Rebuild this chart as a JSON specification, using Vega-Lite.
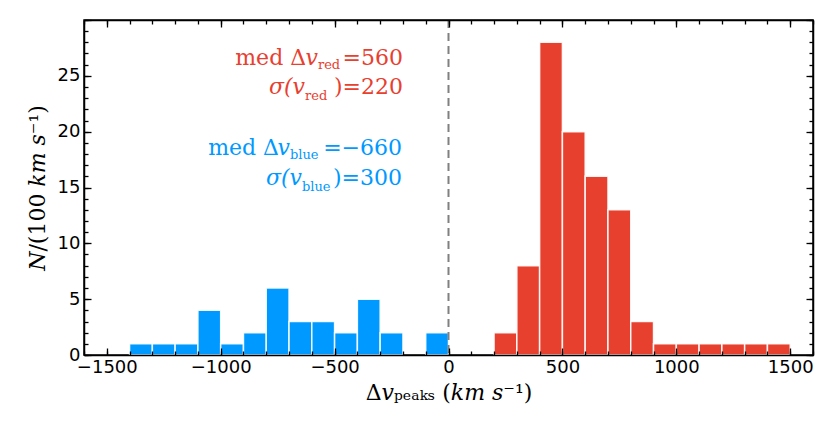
{
  "$schema": "https://vega.github.io/schema/vega-lite/v6.json",
  "width": 729,
  "height": 335,
  "autosize": {"type": "none"},
  "padding": {"left": 84, "top": 20, "right": 17, "bottom": 70},
  "background": "white",
  "config": {
    "view": {"stroke": "black", "strokeWidth": 1.5},
    "axis": {"grid": false, "domain": false, "labelFont": "DejaVu Sans", "labelFontSize": 18, "labelColor": "black", "tickColor": "black", "tickWidth": 1.3}
  },
  "datasets": {
    "bars": [
      {"g": "blue", "start": -1400, "end": -1300, "count": 1},
      {"g": "blue", "start": -1300, "end": -1200, "count": 1},
      {"g": "blue", "start": -1200, "end": -1100, "count": 1},
      {"g": "blue", "start": -1100, "end": -1000, "count": 4},
      {"g": "blue", "start": -1000, "end": -900, "count": 1},
      {"g": "blue", "start": -900, "end": -800, "count": 2},
      {"g": "blue", "start": -800, "end": -700, "count": 6},
      {"g": "blue", "start": -700, "end": -600, "count": 3},
      {"g": "blue", "start": -600, "end": -500, "count": 3},
      {"g": "blue", "start": -500, "end": -400, "count": 2},
      {"g": "blue", "start": -400, "end": -300, "count": 5},
      {"g": "blue", "start": -300, "end": -200, "count": 2},
      {"g": "blue", "start": -100, "end": 0, "count": 2},
      {"g": "red", "start": 200, "end": 300, "count": 2},
      {"g": "red", "start": 300, "end": 400, "count": 8},
      {"g": "red", "start": 400, "end": 500, "count": 28},
      {"g": "red", "start": 500, "end": 600, "count": 20},
      {"g": "red", "start": 600, "end": 700, "count": 16},
      {"g": "red", "start": 700, "end": 800, "count": 13},
      {"g": "red", "start": 800, "end": 900, "count": 3},
      {"g": "red", "start": 900, "end": 1000, "count": 1},
      {"g": "red", "start": 1000, "end": 1100, "count": 1},
      {"g": "red", "start": 1100, "end": 1200, "count": 1},
      {"g": "red", "start": 1200, "end": 1300, "count": 1},
      {"g": "red", "start": 1300, "end": 1400, "count": 1},
      {"g": "red", "start": 1400, "end": 1500, "count": 1}
    ],
    "mainR": [
      {"l": "med Δ", "x": -625, "y": 25.97, "g": "red"},
      {"l": "=560", "x": -200, "y": 25.97, "g": "red"},
      {"l": ")=220", "x": -200, "y": 23.37, "g": "red"},
      {"l": "med Δ", "x": -744, "y": 17.91, "g": "blue"},
      {"l": "=−660", "x": -204, "y": 17.91, "g": "blue"},
      {"l": ")=300", "x": -204, "y": 15.22, "g": "blue"}
    ],
    "italR": [
      {"l": "v", "x": -573, "y": 25.97, "g": "red"},
      {"l": "σ(v", "x": -630, "y": 23.37, "g": "red"},
      {"l": "v", "x": -696, "y": 17.91, "g": "blue"},
      {"l": "σ(v", "x": -643, "y": 15.22, "g": "blue"}
    ],
    "subL": [
      {"l": "red", "x": -573, "y": 25.61, "g": "red"},
      {"l": "red", "x": -630, "y": 22.84, "g": "red"},
      {"l": "blue", "x": -696, "y": 17.55, "g": "blue"},
      {"l": "blue", "x": -643, "y": 14.69, "g": "blue"}
    ],
    "zero": [{"x0": 0}]
  },
  "layer": [
    {
      "data": {"name": "bars"},
      "mark": {"type": "bar", "stroke": "white", "strokeWidth": 1.5, "strokeOpacity": 0.9},
      "encoding": {
        "x": {"field": "start", "type": "quantitative", "scale": {"domain": [-1600, 1600], "nice": false, "zero": false},
          "axis": {"orient": "bottom", "values": [-1500, -1000, -500, 0, 500, 1000, 1500], "format": "d", "ticks": false, "labelPadding": 3,
            "title": "Δ𝑣ₚₑₐₖₛ (𝑘𝑚 𝑠⁻¹)", "titleFont": "DejaVu Serif", "titleFontSize": 22, "titleFontWeight": "normal", "titleColor": "black", "titlePadding": 6}},
        "x2": {"field": "end"},
        "y": {"field": "count", "type": "quantitative", "scale": {"domain": [0, 30], "nice": false, "zero": false},
          "axis": {"orient": "left", "values": [0, 5, 10, 15, 20, 25], "ticks": false, "labelPadding": 4,
            "title": "𝑁/(100 𝑘𝑚 𝑠⁻¹)", "titleFont": "DejaVu Serif", "titleFontSize": 22, "titleFontWeight": "normal", "titleColor": "black", "titlePadding": 8}},
        "y2": {"datum": 0},
        "color": {"field": "g", "type": "nominal", "scale": {"domain": ["red", "blue"], "range": ["#e8402f", "#0099ff"]}, "legend": null}
      }
    },
    {
      "data": {"name": "zero"},
      "mark": {"type": "rule", "color": "#808080", "strokeWidth": 2, "strokeDash": [8, 5]},
      "encoding": {
        "x": {"field": "x0", "type": "quantitative", "scale": {"domain": [-1600, 1600], "nice": false, "zero": false}, "axis": null}
      }
    },
    {
      "data": {"name": "bars"},
      "mark": {"type": "point", "opacity": 0},
      "encoding": {
        "x": {"field": "start", "type": "quantitative", "scale": {"domain": [-1600, 1600], "nice": false, "zero": false},
          "axis": {"orient": "bottom", "values": [-1500, -1000, -500, 0, 500, 1000, 1500], "labels": false, "tickSize": -7, "title": null, "domain": true, "domainColor": "black", "domainWidth": 1.5, "zindex": 1}},
        "y": {"field": "count", "type": "quantitative", "scale": {"domain": [0, 30], "nice": false, "zero": false},
          "axis": {"orient": "left", "values": [0, 5, 10, 15, 20, 25, 30], "labels": false, "tickSize": -7, "title": null, "domain": true, "domainColor": "black", "domainWidth": 1.5, "zindex": 1}}
      }
    },
    {
      "data": {"name": "bars"},
      "mark": {"type": "point", "opacity": 0},
      "encoding": {
        "x": {"field": "start", "type": "quantitative", "scale": {"domain": [-1600, 1600], "nice": false, "zero": false},
          "axis": {"orient": "bottom", "values": [-1600, -1500, -1400, -1300, -1200, -1100, -1000, -900, -800, -700, -600, -500, -400, -300, -200, -100, 0, 100, 200, 300, 400, 500, 600, 700, 800, 900, 1000, 1100, 1200, 1300, 1400, 1500, 1600], "labels": false, "tickSize": -4, "title": null, "zindex": 1}},
        "y": {"field": "count", "type": "quantitative", "scale": {"domain": [0, 30], "nice": false, "zero": false},
          "axis": {"orient": "left", "values": [0, 1, 2, 3, 4, 5, 6, 7, 8, 9, 10, 11, 12, 13, 14, 15, 16, 17, 18, 19, 20, 21, 22, 23, 24, 25, 26, 27, 28, 29, 30], "labels": false, "tickSize": -4, "title": null, "zindex": 1}}
      }
    },
    {
      "data": {"name": "bars"},
      "mark": {"type": "point", "opacity": 0},
      "encoding": {
        "x": {"field": "start", "type": "quantitative", "scale": {"domain": [-1600, 1600], "nice": false, "zero": false},
          "axis": {"orient": "top", "values": [-1500, -1000, -500, 0, 500, 1000, 1500], "labels": false, "tickSize": -7, "title": null, "domain": true, "domainColor": "black", "domainWidth": 1.5, "zindex": 1}},
        "y": {"field": "count", "type": "quantitative", "scale": {"domain": [0, 30], "nice": false, "zero": false},
          "axis": {"orient": "right", "values": [0, 5, 10, 15, 20, 25, 30], "labels": false, "tickSize": -7, "title": null, "domain": true, "domainColor": "black", "domainWidth": 1.5, "zindex": 1}}
      }
    },
    {
      "data": {"name": "bars"},
      "mark": {"type": "point", "opacity": 0},
      "encoding": {
        "x": {"field": "start", "type": "quantitative", "scale": {"domain": [-1600, 1600], "nice": false, "zero": false},
          "axis": {"orient": "top", "values": [-1600, -1500, -1400, -1300, -1200, -1100, -1000, -900, -800, -700, -600, -500, -400, -300, -200, -100, 0, 100, 200, 300, 400, 500, 600, 700, 800, 900, 1000, 1100, 1200, 1300, 1400, 1500, 1600], "labels": false, "tickSize": -4, "title": null, "zindex": 1}},
        "y": {"field": "count", "type": "quantitative", "scale": {"domain": [0, 30], "nice": false, "zero": false},
          "axis": {"orient": "right", "values": [0, 1, 2, 3, 4, 5, 6, 7, 8, 9, 10, 11, 12, 13, 14, 15, 16, 17, 18, 19, 20, 21, 22, 23, 24, 25, 26, 27, 28, 29, 30], "labels": false, "tickSize": -4, "title": null, "zindex": 1}}
      }
    },
    {
      "data": {"name": "mainR"},
      "mark": {"type": "text", "align": "right", "baseline": "alphabetic", "font": "DejaVu Serif", "fontSize": 22},
      "encoding": {
        "x": {"field": "x", "type": "quantitative", "scale": {"domain": [-1600, 1600], "nice": false, "zero": false}, "axis": null},
        "y": {"field": "y", "type": "quantitative", "scale": {"domain": [0, 30], "nice": false, "zero": false}, "axis": null},
        "text": {"field": "l"},
        "color": {"field": "g", "type": "nominal", "scale": {"domain": ["red", "blue"], "range": ["#e8402f", "#0099ff"]}, "legend": null}
      }
    },
    {
      "data": {"name": "italR"},
      "mark": {"type": "text", "align": "right", "baseline": "alphabetic", "font": "DejaVu Serif", "fontSize": 22, "fontStyle": "italic"},
      "encoding": {
        "x": {"field": "x", "type": "quantitative", "scale": {"domain": [-1600, 1600], "nice": false, "zero": false}, "axis": null},
        "y": {"field": "y", "type": "quantitative", "scale": {"domain": [0, 30], "nice": false, "zero": false}, "axis": null},
        "text": {"field": "l"},
        "color": {"field": "g", "type": "nominal", "scale": {"domain": ["red", "blue"], "range": ["#e8402f", "#0099ff"]}, "legend": null}
      }
    },
    {
      "data": {"name": "subL"},
      "mark": {"type": "text", "align": "left", "baseline": "alphabetic", "font": "DejaVu Serif", "fontSize": 13},
      "encoding": {
        "x": {"field": "x", "type": "quantitative", "scale": {"domain": [-1600, 1600], "nice": false, "zero": false}, "axis": null},
        "y": {"field": "y", "type": "quantitative", "scale": {"domain": [0, 30], "nice": false, "zero": false}, "axis": null},
        "text": {"field": "l"},
        "color": {"field": "g", "type": "nominal", "scale": {"domain": ["red", "blue"], "range": ["#e8402f", "#0099ff"]}, "legend": null}
      }
    }
  ]
}
